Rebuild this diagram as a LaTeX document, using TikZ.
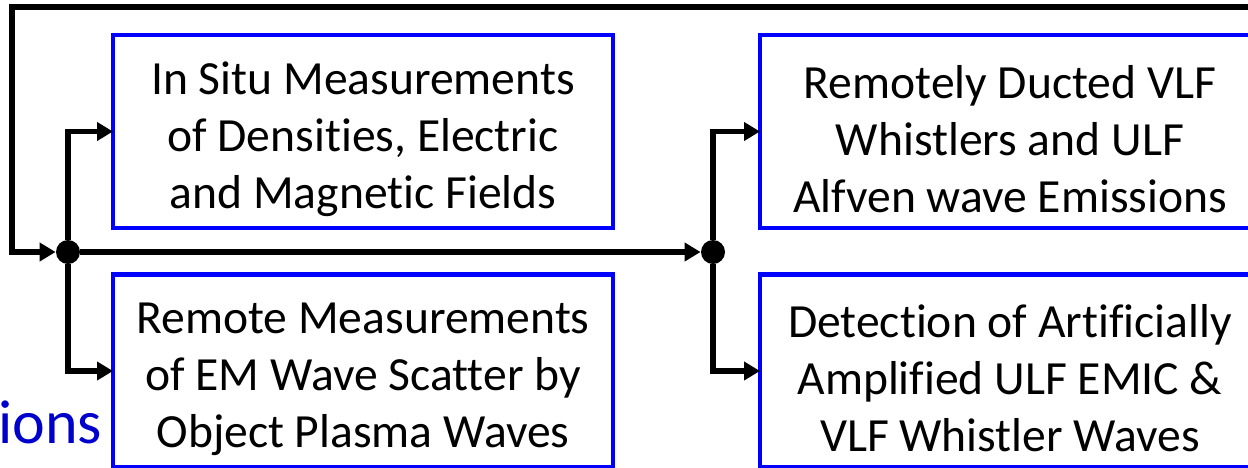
\documentclass[tikz,border=0pt]{standalone}
\usepackage{fontspec}
\setmainfont{Carlito}[Ligatures=NoCommon]
\usetikzlibrary{arrows.meta}

\definecolor{boxblue}{RGB}{0,0,255}
\definecolor{textblue}{RGB}{0,0,204}
\newcommand{\topgap}{\rule{0pt}{24pt}}

\begin{document}
\begin{tikzpicture}[x=0.5pt, y=-0.5pt,
    box/.style={draw=boxblue, line width=2.4pt, minimum width=250pt, minimum height=96.5pt,
        inner sep=0pt, outer sep=0pt, align=center,
        font=\fontsize{23.8pt}{28.5pt}\selectfont},
    flow/.style={line width=2.6pt, -{Triangle[length=8pt, width=9pt]}},
    junction/.style={circle, fill=black, minimum size=12pt, inner sep=0pt}]

    % Frame
    \useasboundingbox (0,0) rectangle (1248,467);
    \clip (0,0) rectangle (1248,467);

    % Boxes
    \node[box] (insitu) at (363,131.5) {\topgap In Situ Measurements\\of Densities, Electric\\and Magnetic Fields};
    \node[box] (remote) at (363,371) {\topgap Remote Measurements\\of EM Wave Scatter by\\Object Plasma Waves};
    \node[box] (ducted) at (1010,131.5) {\topgap Remotely Ducted VLF\\Whistlers and ULF\\Alfven wave Emissions};
    \node[box] (detect) at (1010,371) {\topgap Detection of Artificially\\Amplified ULF EMIC \&\\VLF Whistler Waves};

    % Cut-off title text
    \node[anchor=base west, inner sep=0pt, text=textblue, font=\fontsize{31pt}{37pt}\selectfont]
        (title) at (-2,443) {ions};

    % Junctions
    \node[junction] (j1) at (68,252) {};
    \node[junction] (j2) at (713,252) {};
    \coordinate (feed) at (1270,7);
    \coordinate (corner) at (12,7);

    % Feedback loop
    \draw[flow] (feed) -- (corner) |- (j1);
    \draw[flow] (j1) -- (j2);

    % Branches
    \draw[flow] (j1) |- (insitu.west);
    \draw[flow] (j1) |- (remote.west);
    \draw[flow] (j2) |- (ducted.west);
    \draw[flow] (j2) |- (detect.west);
\end{tikzpicture}
\end{document}
